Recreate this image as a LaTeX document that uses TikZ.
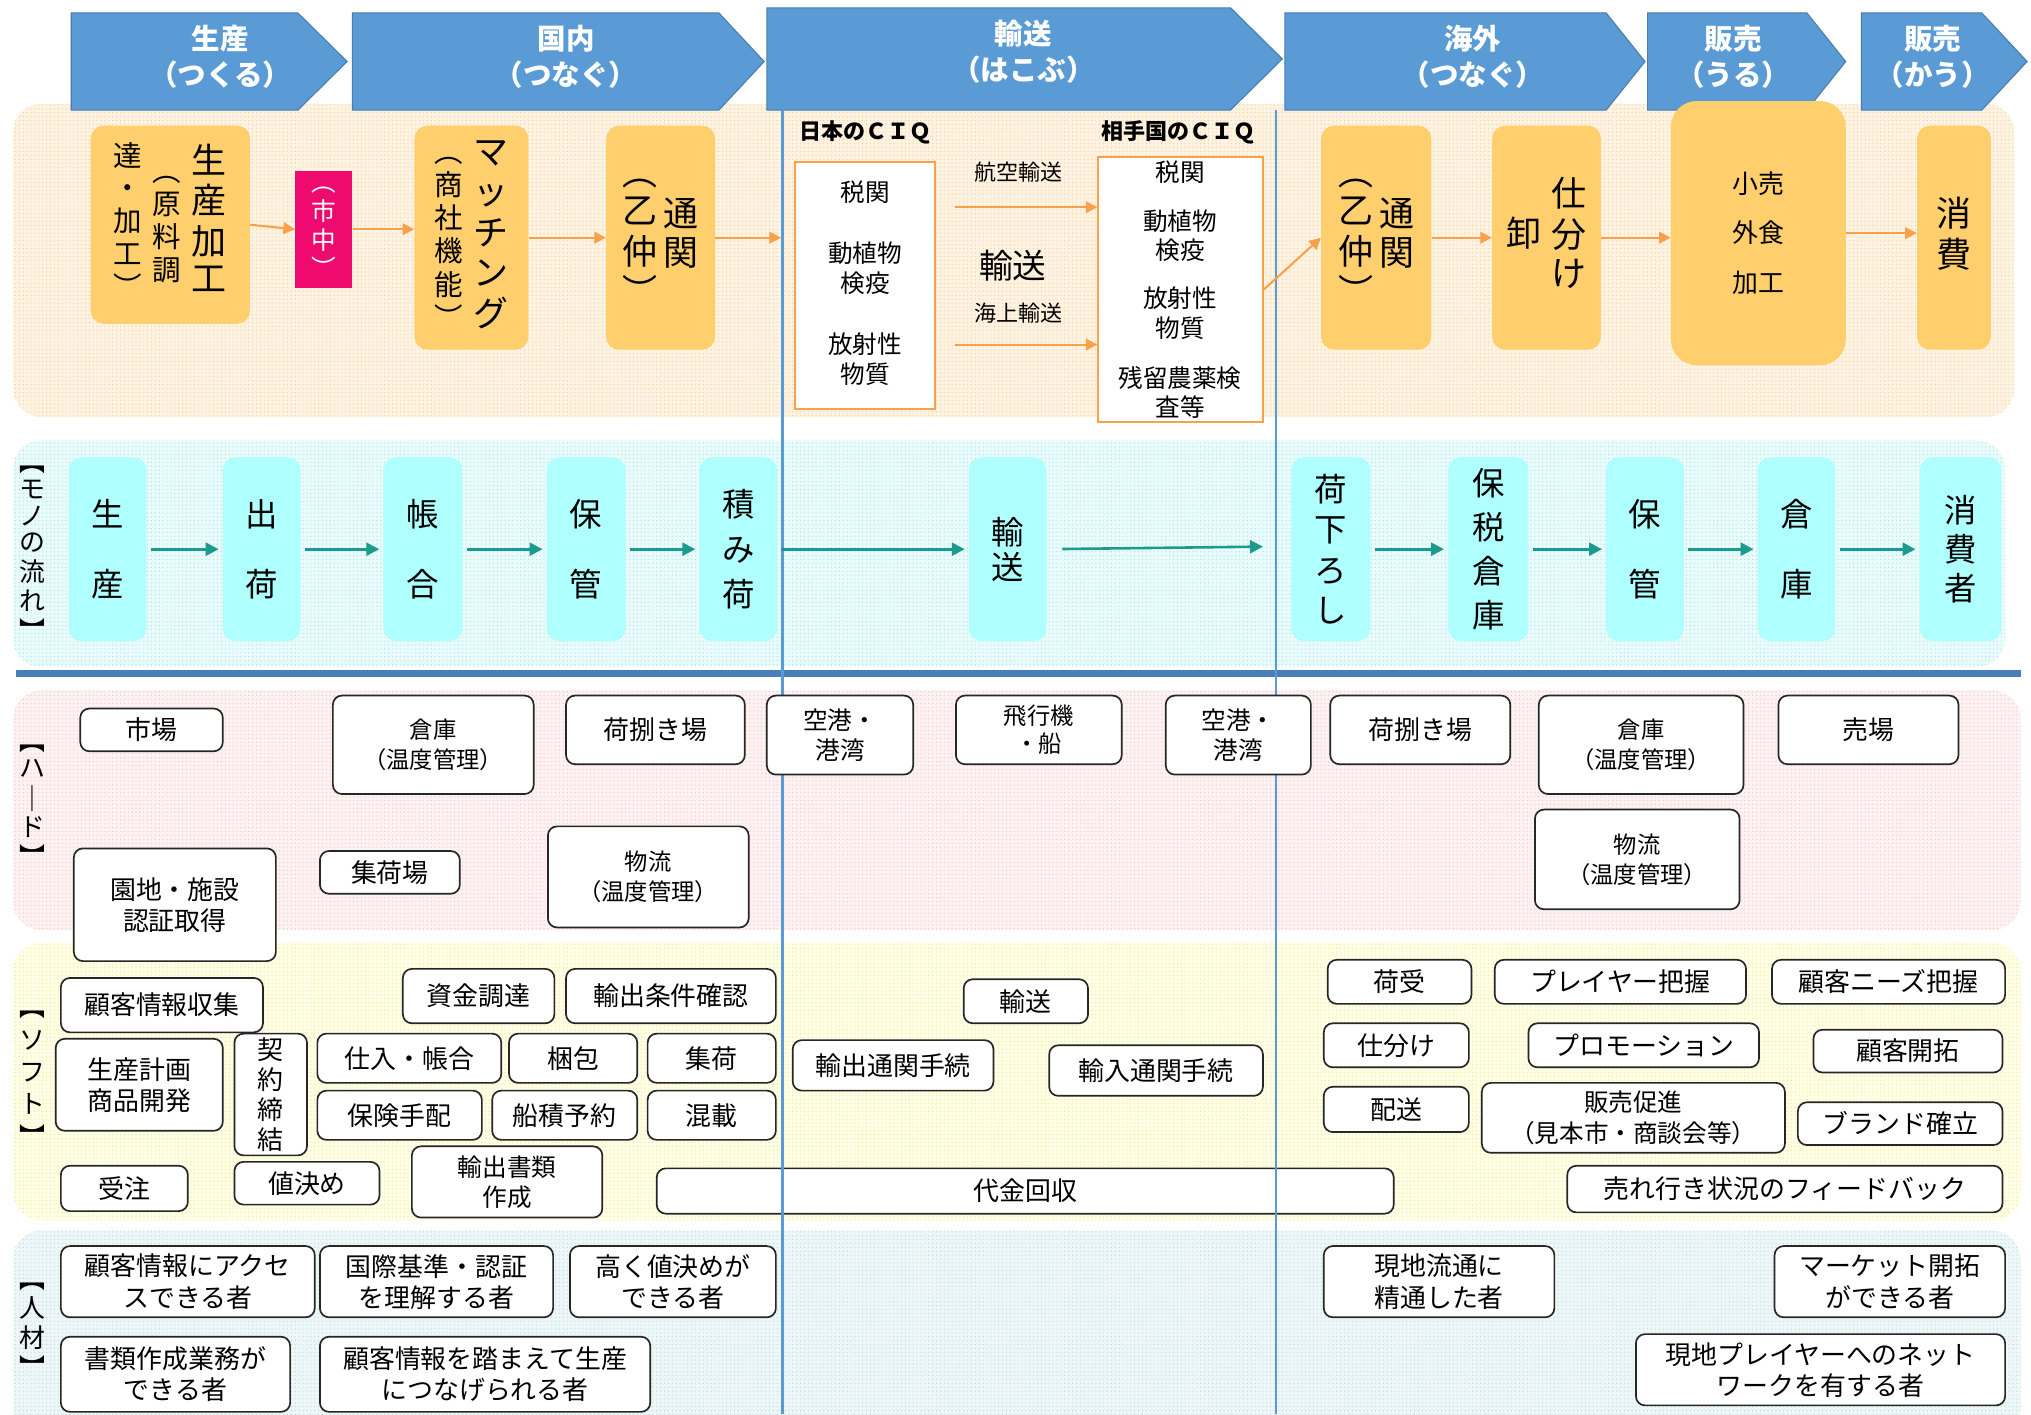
\documentclass[tikz,border=0pt]{standalone}
\usepackage{fontspec}
\setmainfont{Noto Sans CJK JP}
\usetikzlibrary{arrows.meta,patterns}
\definecolor{hblue}{HTML}{5B9BD5}
\definecolor{lblue}{HTML}{5B9BD5}
\definecolor{tblue}{HTML}{4A7EBB}
\definecolor{oboxc}{HTML}{FFCF6E}
\definecolor{oarrc}{HTML}{F9A04B}
\definecolor{magc}{HTML}{EE0A6E}
\definecolor{cboxc}{HTML}{B0FFFF}
\definecolor{tealc}{HTML}{1C9A8E}
\definecolor{bgA}{HTML}{FEF3E2}
\definecolor{dtA}{HTML}{F6CE8E}
\definecolor{bgB}{HTML}{E9FBFB}
\definecolor{dtB}{HTML}{A6E3E3}
\definecolor{bgC}{HTML}{FDF1F1}
\definecolor{dtC}{HTML}{F0C4C4}
\definecolor{bgD}{HTML}{FFFEE6}
\definecolor{dtD}{HTML}{EDEA86}
\definecolor{bgE}{HTML}{EEF7F7}
\definecolor{dtE}{HTML}{B6DADA}
\newcommand\fs[2]{\fontsize{#1}{#2}\selectfont}
\newcommand\vcol[3]{{\fs{#1}{#2}\begin{tabular}[c]{@{}c@{}}#3\end{tabular}}}
\newcommand\mybox[7]{\node[#1,minimum width={(#5-#3)*1pt},minimum height={(#6-#4)*1pt}] (#2) at ({(#3+#5)/2},{(#4+#6)/2}) {#7};}
\newcommand\region[6]{\path[fill=#1,postaction={pattern=dots,pattern color=#2},rounded corners=22] (#3,#4) rectangle (#5,#6);}
\begin{document}
\begin{tikzpicture}[x=1pt,y=-1pt,
  hdr/.style={fill=hblue,draw=hblue!80!black,line width=0.8},
  htext/.style={text=white,font=\fs{22}{28}\bfseries,align=center},
  obox/.style={fill=oboxc,rounded corners=10,inner sep=0},
  mbox/.style={fill=magc,inner sep=0,text=white},
  ciq/.style={draw=oarrc,line width=1.5,fill=white,inner sep=0},
  ctext/.style={font=\fs{19}{23},align=center,inner sep=0},
  ltext/.style={font=\fs{17}{20},inner sep=0},
  cbox/.style={fill=cboxc,rounded corners=10,inner sep=0,align=center},
  wb/.style={draw=black!85,line width=1.3,fill=white,rounded corners=7,inner sep=0,align=center,font=\fs{20}{24}},
  oarr/.style={draw=oarrc,line width=1.6,-{Triangle[length=9pt,width=9pt]}},
  tarr/.style={draw=tealc,line width=2,-{Triangle[length=10pt,width=10pt]},shorten <=3pt,shorten >=3pt},
  vlab/.style={inner sep=0}
]
\useasboundingbox (0,0) rectangle (1568,1092);
\fill[white] (0,0) rectangle (1568,1092);

% backgrounds
\region{bgA}{dtA}{10}{80}{1555}{322}
\region{bgB}{dtB}{10}{340}{1548}{515}
\region{bgC}{dtC}{10}{533}{1560}{718}
\region{bgD}{dtD}{10}{728}{1560}{942}
\region{bgE}{dtE}{10}{950}{1560}{1110}

% header arrows
\draw[hdr] (55,10) -- (230,10) -- (268,47.5) -- (230,85) -- (55,85) -- cycle;
\node[htext] (h1) at (170,44) {生産\\（つくる）};
\draw[hdr] (272,10) -- (555,10) -- (590,47.5) -- (555,85) -- (272,85) -- cycle;
\node[htext] (h2) at (437,44) {国内\\（つなぐ）};
\draw[hdr] (592,6) -- (950,6) -- (990,45.5) -- (950,85) -- (592,85) -- cycle;
\node[htext] (h3) at (790,40) {輸送\\（はこぶ）};
\draw[hdr] (992,10) -- (1240,10) -- (1270,47.5) -- (1240,85) -- (992,85) -- cycle;
\node[htext] (h4) at (1137,44) {海外\\（つなぐ）};
\draw[hdr] (1272,10) -- (1395,10) -- (1425,47.5) -- (1395,85) -- (1272,85) -- cycle;
\node[htext] (h5) at (1338,44) {販売\\（うる）};
\draw[hdr] (1437,10) -- (1530,10) -- (1565,47.5) -- (1530,85) -- (1437,85) -- cycle;
\node[htext] (h6) at (1492,44) {販売\\（かう）};

% thick horizontal line
\draw[tblue,line width=5] (12,520) -- (1560,520);

% payment box under the vertical lines
\mybox{wb}{s15}{507}{902}{1076}{937}{代金回収}

% vertical lines
\draw[lblue,line width=2] (604,85) -- (604,1092);
\draw[lblue,line width=2] (985,85) -- (985,1092);

% ---- top flow ----
\mybox{obox}{b1}{70}{97}{193}{250}{\vcol{22}{25}{達\\・\\加\\工\\︶}\hspace{8pt}\vcol{22}{25}{︵\\原\\料\\調}\hspace{8pt}\vcol{27}{29}{生\\産\\加\\工}}
\mybox{mbox}{shichu}{228}{132}{272}{222}{\vcol{19}{21}{︵\\市\\中\\︶}}
\mybox{obox}{b2}{320}{97}{408}{270}{\vcol{22}{24}{︵\\商\\社\\機\\能\\︶}\hspace{8pt}\vcol{27}{31}{マ\\ッ\\チ\\ン\\グ}}
\mybox{obox}{b3}{468}{97}{552}{270}{\vcol{27}{29}{︵\\乙\\仲\\︶}\hspace{5pt}\vcol{27}{30}{通\\関}}
\coordinate (jp) at (603,183.5);

\node[ltext,font=\fs{17}{20}\bfseries] (jlab) at (668,102) {日本のＣＩＱ};
\node[ltext,font=\fs{17}{20}\bfseries] (alab) at (910,102) {相手国のＣＩＱ};
\mybox{ciq}{ciq1}{614}{125}{722}{316}{}
\node[ctext] (c1a) at (668,148) {税関};
\node[ctext] (c1b) at (668,207) {動植物\\検疫};
\node[ctext] (c1c) at (668,277) {放射性\\物質};
\mybox{ciq}{ciq2}{848}{121}{975}{326}{}
\node[ctext] (c2a) at (911,133) {税関};
\node[ctext] (c2b) at (911,182) {動植物\\検疫};
\node[ctext] (c2c) at (911,242) {放射性\\物質};
\node[ctext] (c2d) at (911,303) {残留農薬検\\査等};
\node[ltext] (air) at (786,133) {航空輸送};
\node[inner sep=0,font=\fs{26}{30}] (yuso) at (782,205) {輸送};
\node[ltext] (sea) at (786,242) {海上輸送};
\coordinate (airs) at (737,160);
\coordinate (seas) at (737,266);

\mybox{obox}{b4}{1020}{97}{1105}{270}{\vcol{27}{29}{︵\\乙\\仲\\︶}\hspace{5pt}\vcol{27}{30}{通\\関}}
\mybox{obox}{b5}{1152}{97}{1236}{270}{\vcol{27}{30}{卸}\hspace{8pt}\vcol{27}{30}{仕\\分\\け}}
\mybox{obox,rounded corners=20,align=center,font=\fs{20}{38.5}}{b6}{1290}{78}{1425}{282}{小売\\外食\\加工}
\mybox{obox}{b7}{1480}{97}{1537}{270}{\vcol{27}{28}{消\\費}}

\draw[oarr] (b1.east) -- (shichu.west);
\draw[oarr] (shichu.east) -- (shichu.east -| b2.west);
\draw[oarr] (b2.east) -- (b3.west);
\draw[oarr] (b3.east) -- (jp);
\draw[oarr] (airs) -- (airs -| ciq2.west);
\draw[oarr] (seas) -- (seas -| ciq2.west);
\draw[oarr] (ciq2.east) -- (b4.west);
\draw[oarr] (b4.east) -- (b5.west);
\draw[oarr] (b5.east) -- (b5.east -| b6.west);
\draw[oarr] (b6.east) -- (b6.east -| b7.west);

% ---- mono flow ----
\node[vlab] (lmono) at (25,425) {\vcol{20}{20.5}{︻\\モ\\ノ\\の\\流\\れ\\︼}};
\mybox{cbox,font=\fs{25}{54}}{m1}{53}{353}{113}{495}{生\\産}
\mybox{cbox,font=\fs{25}{54}}{m2}{172}{353}{232}{495}{出\\荷}
\mybox{cbox,font=\fs{25}{54}}{m3}{296}{353}{357}{495}{帳\\合}
\mybox{cbox,font=\fs{25}{54}}{m4}{422}{353}{483}{495}{保\\管}
\mybox{cbox,font=\fs{25}{35}}{m5}{540}{353}{600}{495}{積\\み\\荷}
\mybox{cbox,font=\fs{25}{27}}{m6}{748}{353}{808}{495}{輸\\送}
\mybox{cbox,font=\fs{25}{31}}{m7}{997}{353}{1058}{495}{荷\\下\\ろ\\し}
\mybox{cbox,font=\fs{25}{34}}{m8}{1118}{353}{1180}{495}{保\\税\\倉\\庫}
\mybox{cbox,font=\fs{25}{54}}{m9}{1240}{353}{1300}{495}{保\\管}
\mybox{cbox,font=\fs{25}{54}}{m10}{1357}{353}{1417}{495}{倉\\庫}
\mybox{cbox,font=\fs{25}{30}}{m11}{1482}{353}{1545}{495}{消\\費\\者}
\coordinate (mend) at (975,422);
\draw[tarr] (m1.east) -- (m2.west);
\draw[tarr] (m2.east) -- (m3.west);
\draw[tarr] (m3.east) -- (m4.west);
\draw[tarr] (m4.east) -- (m5.west);
\draw[tarr] (m5.east) -- (m6.west);
\draw[tarr,shorten <=12pt,shorten >=0pt] (m6.east) -- (mend);
\draw[tarr] (m7.east) -- (m8.west);
\draw[tarr] (m8.east) -- (m9.west);
\draw[tarr] (m9.east) -- (m10.west);
\draw[tarr] (m10.east) -- (m11.west);

% ---- hard ----
\node[vlab] (lhard) at (25,620) {\vcol{20}{21}{︻\\ハ\\｜\\ド\\︼}};
\mybox{wb}{hA}{62}{547}{172}{580}{市場}
\mybox{wb,font=\fs{18}{23}}{hB}{257}{537}{412}{613}{倉庫\\（温度管理）}
\mybox{wb}{hC}{437}{537}{575}{590}{荷捌き場}
\mybox{wb,font=\fs{19}{23}}{hD}{592}{537}{705}{598}{空港・\\港湾}
\mybox{wb,font=\fs{18}{22}}{hE}{738}{537}{866}{590}{飛行機\\・船}
\mybox{wb,font=\fs{19}{23}}{hF}{900}{537}{1012}{598}{空港・\\港湾}
\mybox{wb}{hG}{1027}{537}{1166}{590}{荷捌き場}
\mybox{wb,font=\fs{18}{23}}{hH}{1188}{537}{1346}{613}{倉庫\\（温度管理）}
\mybox{wb}{hI}{1373}{537}{1512}{590}{売場}
\mybox{wb}{hJ}{57}{655}{213}{742}{園地・施設\\認証取得}
\mybox{wb}{hK}{247}{657}{355}{690}{集荷場}
\mybox{wb,font=\fs{18}{23}}{hL}{423}{638}{578}{716}{物流\\（温度管理）}
\mybox{wb,font=\fs{18}{23}}{hM}{1185}{625}{1343}{702}{物流\\（温度管理）}

% ---- soft ----
\node[vlab] (lsoft) at (25,830) {\vcol{20}{25}{︻\\ソ\\フ\\ト\\︼}};
\mybox{wb}{s1}{47}{755}{203}{797}{顧客情報収集}
\mybox{wb}{s2}{311}{748}{428}{790}{資金調達}
\mybox{wb}{s3}{437}{748}{599}{790}{輸出条件確認}
\mybox{wb}{s4}{43}{802}{172}{873}{生産計画\\商品開発}
\mybox{wb,font=\fs{20}{23}}{s5}{181}{798}{237}{892}{契\\約\\締\\結}
\mybox{wb}{s6}{245}{798}{387}{836}{仕入・帳合}
\mybox{wb}{s7}{393}{798}{492}{836}{梱包}
\mybox{wb}{s8}{500}{798}{599}{836}{集荷}
\mybox{wb}{s9}{245}{842}{372}{880}{保険手配}
\mybox{wb}{s10}{380}{842}{492}{880}{船積予約}
\mybox{wb}{s11}{500}{842}{599}{880}{混載}
\mybox{wb}{s12}{47}{900}{145}{935}{受注}
\mybox{wb}{s13}{181}{897}{293}{930}{値決め}
\mybox{wb,font=\fs{19}{23}}{s14}{318}{885}{465}{940}{輸出書類\\作成}
\mybox{wb}{s16}{744}{756}{840}{790}{輸送}
\mybox{wb}{s17}{612}{803}{767}{842}{輸出通関手続}
\mybox{wb}{s18}{810}{807}{975}{846}{輸入通関手続}
\mybox{wb}{s19}{1025}{741}{1136}{775}{荷受}
\mybox{wb}{s20}{1154}{741}{1348}{775}{プレイヤー把握}
\mybox{wb}{s21}{1368}{741}{1548}{775}{顧客ニーズ把握}
\mybox{wb}{s22}{1022}{790}{1134}{824}{仕分け}
\mybox{wb}{s23}{1180}{790}{1358}{824}{プロモーション}
\mybox{wb}{s24}{1400}{795}{1546}{828}{顧客開拓}
\mybox{wb}{s25}{1022}{839}{1134}{874}{配送}
\mybox{wb,font=\fs{19}{24}}{s26}{1144}{836}{1378}{890}{販売促進\\（見本市・商談会等）}
\mybox{wb}{s27}{1388}{851}{1546}{884}{ブランド確立}
\mybox{wb}{s28}{1210}{900}{1546}{936}{売れ行き状況のフィードバック}

% ---- human resources ----
\node[vlab] (ljin) at (25,1025) {\vcol{20}{21}{︻\\人\\材\\︼}};
\mybox{wb}{j1}{47}{962}{243}{1017}{顧客情報にアクセ\\スできる者}
\mybox{wb}{j2}{247}{962}{427}{1017}{国際基準・認証\\を理解する者}
\mybox{wb}{j3}{440}{962}{599}{1017}{高く値決めが\\できる者}
\mybox{wb}{j4}{47}{1032}{224}{1090}{書類作成業務が\\できる者}
\mybox{wb}{j5}{247}{1032}{502}{1090}{顧客情報を踏まえて生産\\につなげられる者}
\mybox{wb}{j6}{1022}{962}{1200}{1017}{現地流通に\\精通した者}
\mybox{wb}{j7}{1370}{962}{1548}{1017}{マーケット開拓\\ができる者}
\mybox{wb}{j8}{1263}{1030}{1548}{1085}{現地プレイヤーへのネット\\ワークを有する者}
\end{tikzpicture}
\end{document}
